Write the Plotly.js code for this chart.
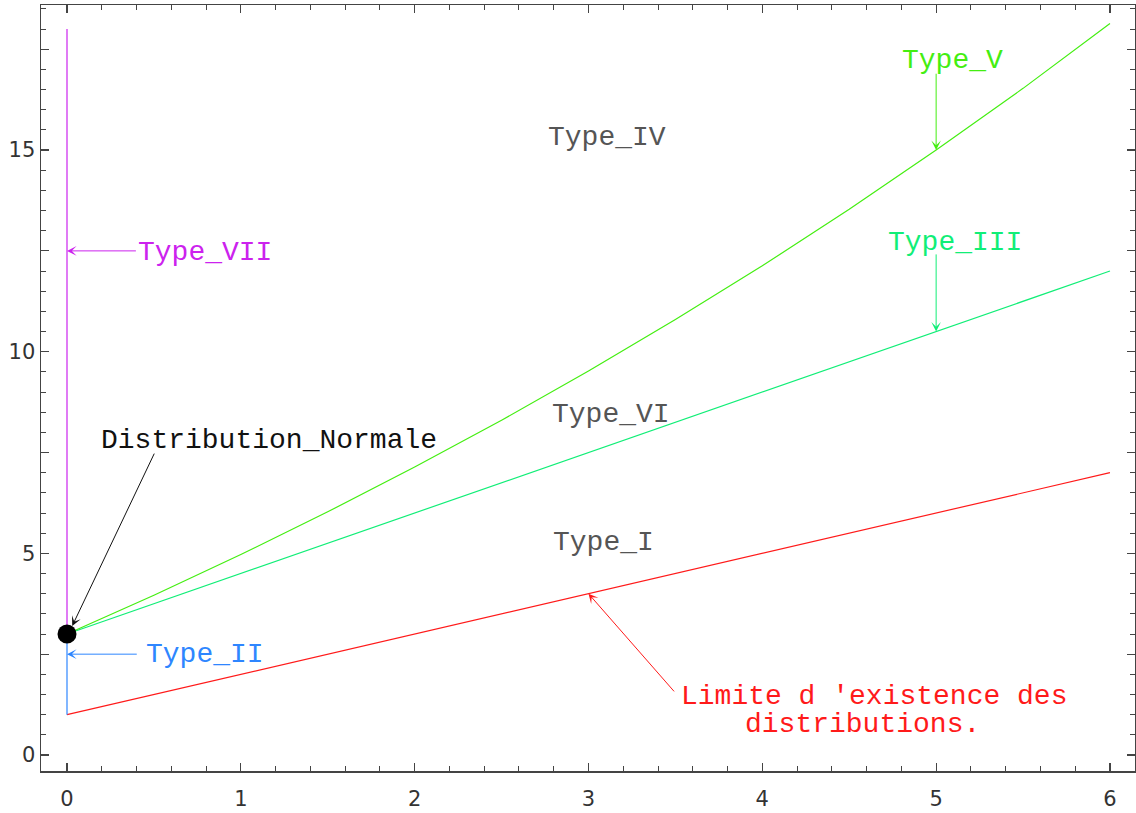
<!DOCTYPE html>
<html>
<head>
<meta charset="utf-8">
<script src="https://cdn.plot.ly/plotly-3.0.1.min.js"></script>
<style>html,body{margin:0;padding:0;background:#fff;}#chart{width:1136px;height:813px;}</style>
</head>
<body>
<div id="chart"></div>
<script>
// beta1 sample points
const beta1 = [0, 0.5, 1, 1.5, 2, 2.5, 3, 3.5, 4, 4.5, 5, 5.5, 6];
// Limit of existence (red)
const limitBeta2 = [1, 1.5, 2, 2.5, 3, 3.5, 4, 4.5, 5, 5.5, 6, 6.5, 7];
// Type III line
const type3Beta2 = [3, 3.75, 4.5, 5.25, 6, 6.75, 7.5, 8.25, 9, 9.75, 10.5, 11.25, 12];
// Type V curve
const type5Beta2 = [3, 3.96, 4.97, 6.03, 7.14, 8.30, 9.52, 10.80, 12.13, 13.53, 15.0, 16.53, 18.14];
// Type VII (vertical at beta1 = 0)
const type7X = [0, 0];
const type7Y = [3, 18];
// Type II (vertical at beta1 = 0)
const type2X = [0, 0];
const type2Y = [1, 3];
// Normal distribution point
const normalX = [0];
const normalY = [3];

const yTickVals = [0, 2.5, 5, 7.5, 10, 12.5, 15, 17.5];
const yTickText = ['0', '', '5', '', '10', '', '15', ''];
const xTickVals = [0, 1, 2, 3, 4, 5, 6];
const xTickText = ['0', '1', '2', '3', '4', '5', '6'];

const cRed = '#ff1a1a', cV = '#44ee11', cIII = '#11ee77', cVII = '#cc22ee', cII = '#2e86ff', cGray = '#555555';
const mono = 'Liberation Mono, Courier New, monospace';

const traces = [
  {x: beta1, y: limitBeta2, mode: 'lines', line: {color: cRed, width: 1.2}},
  {x: beta1, y: type3Beta2, mode: 'lines', line: {color: cIII, width: 1.2}},
  {x: beta1, y: type5Beta2, mode: 'lines', line: {color: cV, width: 1.2}},
  {x: type7X, y: type7Y, mode: 'lines', line: {color: cVII, width: 1.2}},
  {x: type2X, y: type2Y, mode: 'lines', line: {color: cII, width: 1.2}},
  {x: normalX, y: normalY, mode: 'markers', marker: {color: '#000', size: 19}}
];

function txt(x, y, text, color) {
  return {x: x, y: y, xref: 'x', yref: 'y', text: text, showarrow: false,
    font: {family: mono, size: 28, color: color}, xanchor: 'center', yanchor: 'middle'};
}
function arr(hx, hy, tx, ty, color) {
  return {x: hx, y: hy, ax: tx, ay: ty, xref: 'x', yref: 'y', axref: 'x', ayref: 'y',
    text: '', showarrow: true, arrowhead: 3, arrowsize: 1.6, arrowwidth: 1, arrowcolor: color,
    standoff: 0, startstandoff: 0};
}

const annotations = [
  txt(3.104, 15.30, 'Type_IV', cGray),
  txt(3.13, 8.455, 'Type_VI', cGray),
  txt(3.086, 5.28, 'Type_I', cGray),
  txt(5.095, 17.23, 'Type_V', cV),
  arr(5.0, 15.0, 5.0, 16.93, cV),
  txt(5.11, 12.72, 'Type_III', cIII),
  arr(5.0, 10.5, 5.0, 12.45, cIII),
  txt(0.794, 12.47, 'Type_VII', cVII),
  arr(0.0, 12.5, 0.405, 12.5, cVII),
  txt(0.794, 2.48, 'Type_II', cII),
  arr(0.0, 2.5, 0.41, 2.5, cII),
  txt(1.162, 7.81, 'Distribution_Normale', '#111111'),
  arr(0.03, 3.2, 0.506, 7.51, '#111111'),
  txt(4.645, 1.44, "Limite d 'existence des", cRed),
  txt(4.578, 0.744, 'distributions.', cRed),
  arr(3.0, 4.0, 3.50, 1.54, cRed)
];

const axisCommon = {
  showgrid: false, zeroline: false, showline: true, linecolor: '#444', linewidth: 1.5,
  mirror: 'allticks', ticks: 'inside', ticklen: 8, tickcolor: '#444', tickwidth: 1.2,
  tickfont: {family: 'DejaVu Sans, sans-serif', size: 21, color: '#333'}
};

const layout = {
  width: 1136, height: 813,
  margin: {l: 41, r: 1, t: 5, b: 42},
  paper_bgcolor: '#fff', plot_bgcolor: '#fff',
  showlegend: false,
  xaxis: Object.assign({}, axisCommon, {
    range: [-0.1496, 6.144], tickmode: 'array', tickvals: xTickVals, ticktext: xTickText,
    ticklabelstandoff: 8,
    minor: {tickmode: 'linear', tick0: 0, dtick: 0.2, ticks: 'inside', ticklen: 5, tickcolor: '#444', tickwidth: 1}
  }),
  yaxis: Object.assign({}, axisCommon, {
    range: [-0.397, 18.597], tickmode: 'array', tickvals: yTickVals, ticktext: yTickText,
    minor: {tickmode: 'linear', tick0: 0, dtick: 0.5, ticks: 'inside', ticklen: 5, tickcolor: '#444', tickwidth: 1}
  }),
  annotations: annotations
};

Plotly.newPlot('chart', traces, layout, {staticPlot: true, displayModeBar: false});
</script>
</body>
</html>
